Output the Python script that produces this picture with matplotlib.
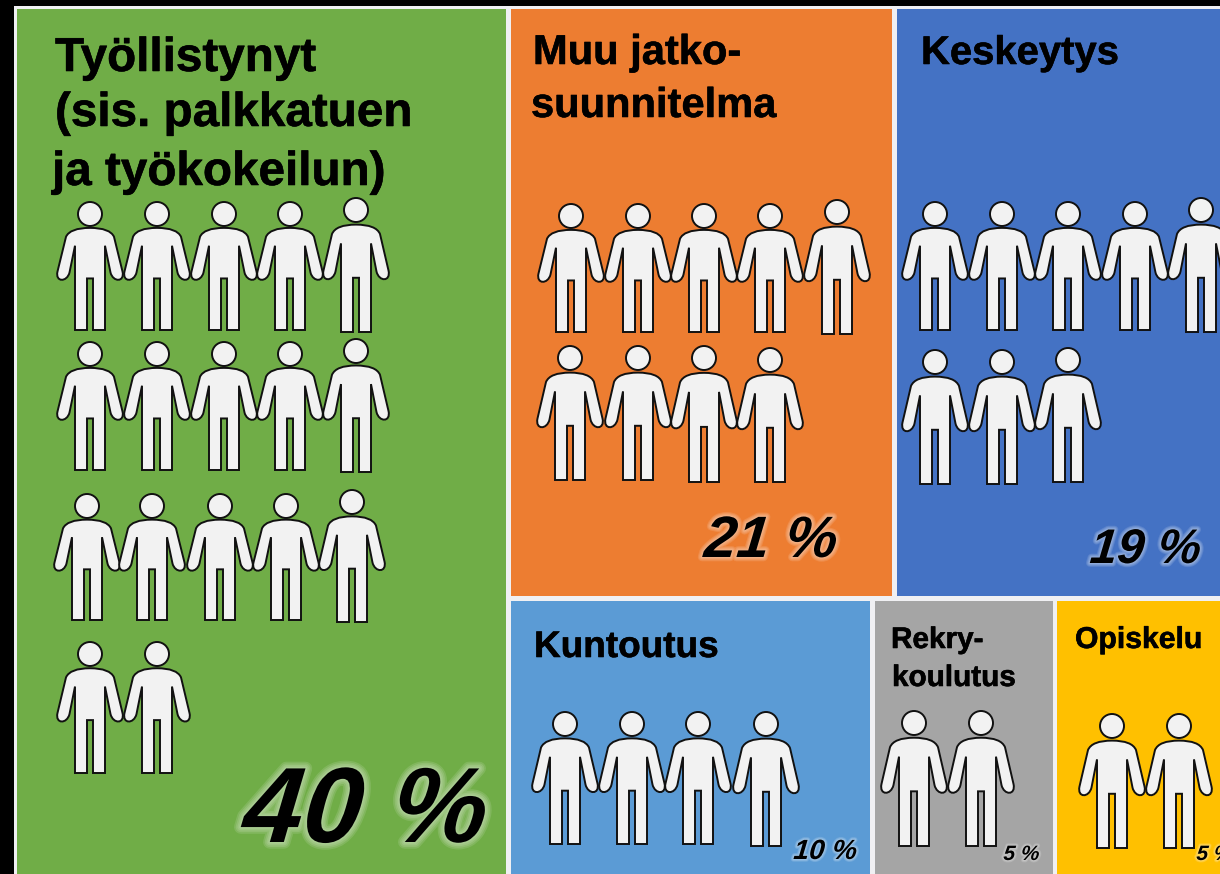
import matplotlib
matplotlib.use("Agg")
import matplotlib.pyplot as plt
import matplotlib.patheffects as pe
from matplotlib.patches import Rectangle, Circle, PathPatch
from matplotlib.path import Path
from matplotlib.transforms import Affine2D

# data
categories = ["Työllistynyt\n(sis. palkkatuen\nja työkokeilun)", "Muu jatko-\nsuunnitelma", "Keskeytys",
              "Kuntoutus", "Rekry-\nkoulutus", "Opiskelu"]
percents = [40, 21, 19, 10, 5, 5]
people = [17, 9, 8, 4, 2, 2]
colors = ["#70AD47", "#ED7D31", "#4472C4", "#5B9BD5", "#A5A5A5", "#FFC000"]

# layout in pixels of the picture
boxes = [(17, 9, 489, 870), (511, 9, 381, 587), (897, 9, 330, 587),
         (511, 601, 359, 278), (875, 601, 178, 278), (1057, 601, 170, 278)]
title_x = [[55, 55, 52], [533, 531], [921], [534], [891, 892], [1075]]
title_y = [[71, 126, 185], [64, 117], [64], [657], [648, 686], [648]]
title_size = [34.3, 30, 28.8, 26.6, 21.4, 21.7]
pct_x = [241, 703, 1089, 793, 1003, 1196]
pct_y = [842, 557, 563, 859, 860, 860]
pct_size = [77, 42, 35, 20, 15, 15]
# head x, head y, feet y
row_people = [
    [(90, 214, 330), (157, 214, 330), (224, 214, 330), (290, 214, 330), (356, 210, 332),
     (90, 354, 470), (157, 354, 470), (224, 354, 470), (290, 354, 470), (356, 351, 472),
     (87, 506, 620), (152, 506, 620), (220, 506, 620), (286, 506, 620), (352, 502, 622),
     (90, 654, 773), (157, 654, 773)],
    [(571, 216, 332), (638, 216, 332), (704, 216, 332), (770, 216, 332), (837, 212, 334),
     (570, 358, 480), (638, 358, 480), (704, 358, 482), (770, 360, 482)],
    [(935, 214, 330), (1002, 214, 330), (1068, 214, 330), (1135, 214, 330), (1201, 210, 332),
     (935, 362, 484), (1002, 362, 484), (1068, 360, 482)],
    [(565, 724, 844), (632, 724, 844), (698, 724, 844), (766, 724, 846)],
    [(914, 723, 846), (981, 723, 846)],
    [(1112, 726, 848), (1179, 726, 848)],
]

# figure outline, offsets from the head centre
body_codes = [Path.MOVETO, Path.CURVE3, Path.CURVE3, Path.LINETO, Path.CURVE4, Path.CURVE4, Path.CURVE4,
              Path.LINETO, Path.LINETO, Path.LINETO, Path.LINETO, Path.LINETO, Path.LINETO, Path.LINETO,
              Path.LINETO, Path.LINETO, Path.CURVE4, Path.CURVE4, Path.CURVE4, Path.LINETO, Path.CURVE3,
              Path.CURVE3, Path.CLOSEPOLY]
body_verts = [(0, 14), (-20, 14), (-24, 23), (-32.5, 58), (-35, 69), (-23, 69), (-20.5, 59), (-15, 32), (-15, 117),
              (-3, 117), (-3, 65), (3, 65), (3, 117), (15, 117), (15, 32), (20.5, 59), (23, 69), (35, 69),
              (32.5, 58), (24, 23), (20, 14), (0, 14), (0, 14)]


# more slant than the italic font has, plus a soft white glow
class SlantGlow(pe.AbstractPathEffect):
    def __init__(self, y0, slant, glow):
        super().__init__()
        self.y0 = y0
        self.slant = slant
        self.glow = glow

    def draw_path(self, renderer, gc, tpath, affine, rgbFace):
        shear = Affine2D.from_values(1, 0, self.slant, 1, -self.slant * self.y0, 0)
        full = affine + shear
        for k in (1.0, 0.75, 0.5, 0.25):
            gc0 = renderer.new_gc()
            gc0.copy_properties(gc)
            gc0.set_foreground("white")
            gc0.set_alpha(0.12)
            gc0.set_linewidth(self.glow * k)
            gc0.set_joinstyle("round")
            renderer.draw_path(gc0, tpath, full, None)
            gc0.restore()
        renderer.draw_path(gc, tpath, full, rgbFace)


fig = plt.figure(figsize=(12.2, 8.74), dpi=100, facecolor="black")
ax = fig.add_axes([0, 0, 1, 1])
ax.set_xlim(0, 1220)
ax.set_ylim(874, 0)
ax.axis("off")

# pale backing shows as the gaps between the boxes
ax.add_patch(Rectangle((14, 6), 1220, 880, facecolor="#F0F0F3", edgecolor="none"))

for i, box in enumerate(boxes):
    ax.add_patch(Rectangle((box[0], box[1]), box[2], box[3], facecolor=colors[i], edgecolor="none"))

    # titles
    for j, line in enumerate(categories[i].split("\n")):
        ax.text(title_x[i][j], title_y[i][j], line, fontsize=title_size[i], fontweight="bold",
                family="Liberation Sans", color="black", va="baseline", ha="left",
                path_effects=[pe.withStroke(linewidth=0.4, foreground="black")])

    # people
    for hx, hy, fy in row_people[i][:people[i]]:
        stretch = (fy - hy) / 117
        ax.add_patch(Circle((hx, hy), 12, facecolor="#F2F2F2", edgecolor="#111111", linewidth=1.4))
        verts = [(hx + dx, hy + dy * stretch) for dx, dy in body_verts]
        ax.add_patch(PathPatch(Path(verts, body_codes), facecolor="#F2F2F2", edgecolor="#111111", linewidth=1.4))

    # percent
    y0 = ax.transData.transform((0, pct_y[i]))[1]
    ax.text(pct_x[i], pct_y[i], f"{percents[i]} %", fontsize=pct_size[i], fontweight="bold", style="italic",
            family="Liberation Sans", color="black", va="baseline", ha="left",
            path_effects=[SlantGlow(y0, 0.1, pct_size[i] * 0.1 + 2)])

fig.savefig("out.png", dpi=100, facecolor="black")
